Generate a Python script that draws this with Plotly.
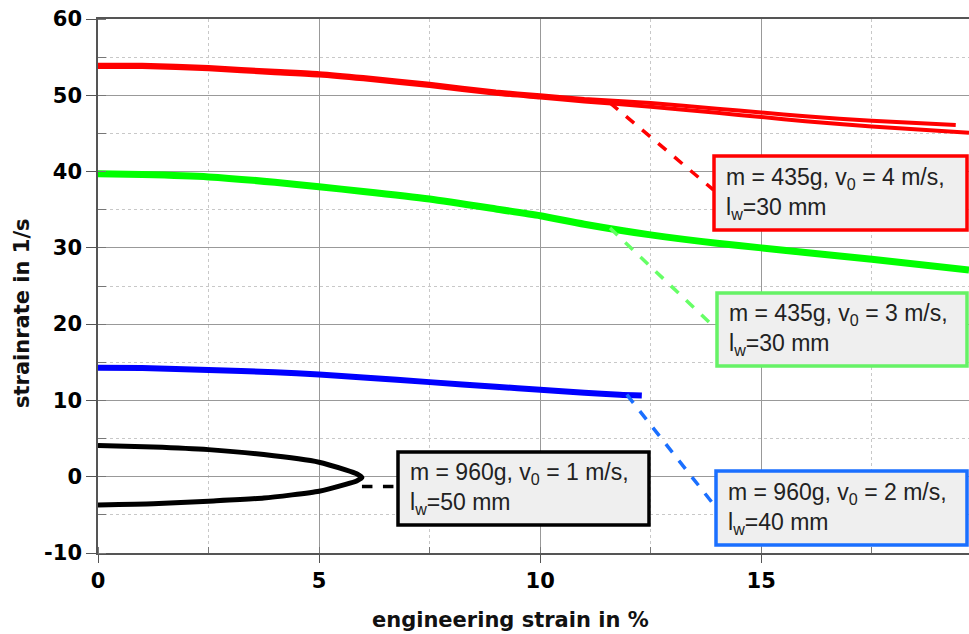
import plotly.graph_objects as go

# ---------------- data ----------------
red_a_x = [0, 1, 2.5, 4, 5, 6, 7.5, 9, 10, 11, 12.5, 14, 15, 16, 17.5, 19.4]
red_a_y = [54.0, 54.0, 53.7, 53.2, 52.9, 52.4, 51.5, 50.5, 50.0, 49.5, 49.0, 48.25, 47.75, 47.25, 46.65, 46.1]
red_b_x = [0, 1, 2.5, 4, 5, 6, 7.5, 9, 10, 11, 12.5, 14, 15, 16, 17.5, 19.7]
red_b_y = [53.7, 53.7, 53.4, 52.9, 52.6, 52.1, 51.2, 50.2, 49.7, 49.2, 48.5, 47.7, 47.15, 46.6, 45.9, 45.1]
green_x = [0, 1, 2.5, 4, 5, 6, 7.5, 9, 10, 11, 12.5, 14, 15, 16, 17.5, 19.7]
green_y = [39.7, 39.6, 39.3, 38.6, 38.0, 37.4, 36.4, 35.1, 34.2, 33.1, 31.7, 30.6, 30.0, 29.4, 28.5, 27.1]
blue_x = [0, 1, 2.5, 4, 5, 6, 7.5, 9, 10, 11, 11.8, 12.3]
blue_y = [14.3, 14.25, 14.0, 13.7, 13.4, 13.0, 12.4, 11.8, 11.4, 11.0, 10.75, 10.65]
black_x = [0, 1.25, 2.5, 3.75, 5, 5.6, 5.85, 5.97, 5.85, 5.6, 5, 3.75, 2.5, 1.25, 0]
black_y = [4.1, 3.9, 3.55, 2.9, 1.9, 0.9, 0.4, -0.1, -0.55, -1.0, -1.9, -2.8, -3.2, -3.55, -3.7]

labels = [
    "m = 435g, v<sub>0</sub> = 4 m/s,<br>l<sub>w</sub>=30 mm",
    "m = 435g, v<sub>0</sub> = 3 m/s,<br>l<sub>w</sub>=30 mm",
    "m = 960g, v<sub>0</sub> = 2 m/s,<br>l<sub>w</sub>=40 mm",
    "m = 960g, v<sub>0</sub> = 1 m/s,<br>l<sub>w</sub>=50 mm",
]
box_colors = ["#ff0000", "#66f266", "#1a6fff", "#000000"]
dash_colors = ["#ff0000", "#66ff66", "#1a6fff", "#000000"]
# label boxes as pixel rectangles (left, top, right, bottom)
box_px = [(714, 156, 967, 230), (717, 293, 967, 366), (716, 471, 967, 545), (398, 452, 649, 525)]
# leader line endpoints in data units
leaders = [((11.58, 49.0), (13.92, 37.6)),
           ((11.58, 32.6), (13.96, 19.5)),
           ((11.96, 10.75), (13.96, -3.9)),
           ((5.97, -1.27), (6.76, -1.27))]

x_title = "engineering strain in %"
y_title = "strainrate in 1/s"
y_ticks = [-10, 0, 10, 20, 30, 40, 50, 60]
x_ticks = [0, 5, 10, 15]

W, H = 969, 634
ML, MR, MT, MB = 98, 0, 19, 81
PW, PH = W - ML - MR, H - MT - MB


def px_x(p):
    return (p - ML) / PW


def px_y(p):
    return (H - MB - p) / PH


fig = go.Figure()
fig.add_trace(go.Scatter(x=red_a_x, y=red_a_y, mode="lines",
                         line=dict(color="#ff0000", width=4, shape="spline", smoothing=0.6), showlegend=False))
fig.add_trace(go.Scatter(x=red_b_x, y=red_b_y, mode="lines",
                         line=dict(color="#ff0000", width=4, shape="spline", smoothing=0.6), showlegend=False))
fig.add_trace(go.Scatter(x=green_x, y=green_y, mode="lines",
                         line=dict(color="#00ff00", width=7, shape="spline", smoothing=0.6), showlegend=False))
fig.add_trace(go.Scatter(x=blue_x, y=blue_y, mode="lines",
                         line=dict(color="#0000ff", width=6, shape="spline", smoothing=0.6), showlegend=False))
fig.add_trace(go.Scatter(x=black_x, y=black_y, mode="lines",
                         line=dict(color="#000000", width=5, shape="spline", smoothing=0.5), showlegend=False))

for (p0, p1), c in zip(leaders, dash_colors):
    fig.add_shape(type="line", xref="x", yref="y", x0=p0[0], y0=p0[1], x1=p1[0], y1=p1[1],
                  line=dict(color=c, width=3.5, dash="dash"))

for txt, c, (l, t, r, b) in zip(labels, box_colors, box_px):
    fig.add_shape(type="rect", xref="paper", yref="paper",
                  x0=px_x(l), x1=px_x(r), y0=px_y(b), y1=px_y(t),
                  line=dict(color=c, width=3.5), fillcolor="#efefef", layer="above")
    fig.add_annotation(x=px_x(l + 10), y=px_y((t + b) / 2), xref="paper", yref="paper",
                       xanchor="left", yanchor="middle", text=txt, showarrow=False, align="left",
                       font=dict(family="Liberation Sans", size=23, color="#222222"))

fig.add_annotation(x=px_x(510), y=px_y(620), xref="paper", yref="paper", showarrow=False, text=x_title,
                   xanchor="center", yanchor="middle",
                   font=dict(family="DejaVu Sans", size=21, color="#111111", weight="bold"))
fig.add_annotation(x=px_x(22), y=px_y(313), xref="paper", yref="paper", showarrow=False, text=y_title,
                   xanchor="center", yanchor="middle", textangle=-90,
                   font=dict(family="DejaVu Sans", size=21, color="#111111", weight="bold"))

tickfont = dict(family="DejaVu Sans", size=21, color="#000000", weight="bold")
fig.update_xaxes(range=[0, 19.7], tickvals=x_ticks, ticktext=[str(v) for v in x_ticks],
                 ticks="outside", ticklen=8, tickcolor="#555",
                 showline=True, linecolor="#555", linewidth=1.5, mirror=True,
                 showgrid=True, gridcolor="#999999", gridwidth=1, zeroline=False,
                 tickfont=tickfont,
                 minor=dict(dtick=2.5, tick0=0, ticks="inside", ticklen=6, tickcolor="#777",
                            showgrid=True, gridcolor="#c8c8c8", griddash="dot", gridwidth=1))
fig.update_yaxes(range=[-10, 60], tickvals=y_ticks, ticktext=[str(v) for v in y_ticks],
                 ticks="outside", ticklen=10,
                 tickcolor="#555", showline=True, linecolor="#555", linewidth=1.5,
                 showgrid=True, gridcolor="#999999", gridwidth=1, zeroline=False,
                 tickfont=tickfont,
                 minor=dict(dtick=5, tick0=0, ticks="inside", ticklen=8, tickcolor="#777",
                            showgrid=True, gridcolor="#c8c8c8", griddash="dot", gridwidth=1))

fig.update_layout(width=W, height=H, margin=dict(l=ML, r=MR, t=MT, b=MB),
                  paper_bgcolor="white", plot_bgcolor="white", showlegend=False)

fig.write_html("out.html")
